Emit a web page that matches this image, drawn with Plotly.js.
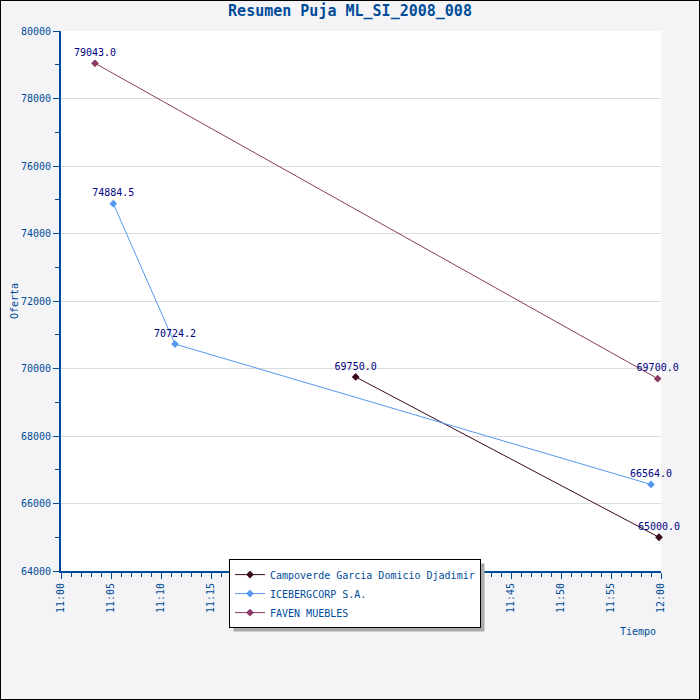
<!DOCTYPE html>
<html>
<head>
<meta charset="utf-8">
<script src="https://cdn.plot.ly/plotly-3.0.1.min.js"></script>
<style>
  html, body { margin: 0; padding: 0; background: #fff; }
  #chart { width: 700px; height: 700px; box-sizing: border-box; border: 1px solid #000; }
</style>
</head>
<body>
<div id="chart"></div>
<script>
var seriesNames = ["Campoverde Garcia Domicio Djadimir", "ICEBERGCORP S.A.", "FAVEN MUEBLES"];
var seriesColors = ["#3a0a1c", "#5599ee", "#8a3a64"];

var campoTimes = ["2008-01-01 11:29:28", "2008-01-01 11:59:48"];
var campoValues = [69750.0, 65000.0];

var icebergTimes = ["2008-01-01 11:05:14", "2008-01-01 11:11:24", "2008-01-01 11:59:00"];
var icebergValues = [74884.5, 70724.2, 66564.0];

var favenTimes = ["2008-01-01 11:03:24", "2008-01-01 11:59:40"];
var favenValues = [79043.0, 69700.0];

var xTickVals = ["2008-01-01 11:00", "2008-01-01 11:05", "2008-01-01 11:10", "2008-01-01 11:15",
  "2008-01-01 11:20", "2008-01-01 11:25", "2008-01-01 11:30", "2008-01-01 11:35", "2008-01-01 11:40",
  "2008-01-01 11:45", "2008-01-01 11:50", "2008-01-01 11:55", "2008-01-01 12:00"];
var xTickText = ["11:00", "11:05", "11:10", "11:15", "11:20", "11:25", "11:30", "11:35", "11:40",
  "11:45", "11:50", "11:55", "12:00"];

var mono = "DejaVu Sans Mono, monospace";
var axisBlue = "#004c99";

function makeTrace(i, xs, ys) {
  return {
    x: xs,
    y: ys,
    name: seriesNames[i],
    type: "scatter",
    mode: "lines+markers+text",
    text: ys.map(function(v) { return v.toFixed(1); }),
    textposition: "top center",
    textfont: { family: mono, size: 10, color: "#000080" },
    cliponaxis: false,
    line: { color: seriesColors[i], width: 1 },
    marker: { symbol: "diamond", size: 6, color: seriesColors[i] }
  };
}

var data = [
  makeTrace(0, campoTimes, campoValues),
  makeTrace(1, icebergTimes, icebergValues),
  makeTrace(2, favenTimes, favenValues)
];

var layout = {
  width: 698,
  height: 698,
  paper_bgcolor: "#f4f4f6",
  plot_bgcolor: "#ffffff",
  margin: { l: 60, r: 38, t: 30, b: 128 },
  title: {
    text: "<b>Resumen Puja ML_SI_2008_008</b>",
    font: { family: mono, size: 15, color: axisBlue },
    x: 0.5, xanchor: "center", y: 0.993, yanchor: "top"
  },
  showlegend: true,
  legend: {
    x: 0.28, xanchor: "left",
    y: 0.022, yanchor: "top",
    bgcolor: "#ffffff",
    bordercolor: "#000000",
    borderwidth: 1,
    font: { family: mono, size: 10, color: axisBlue },
    traceorder: "normal",
    tracegroupgap: 0,
    itemwidth: 30
  },
  xaxis: {
    type: "date",
    range: ["2008-01-01 11:00", "2008-01-01 12:00"],
    tickmode: "array",
    tickvals: xTickVals,
    ticktext: xTickText,
    tickangle: -90,
    ticks: "outside",
    ticklen: 6,
    tickcolor: axisBlue,
    tickfont: { family: mono, size: 10, color: axisBlue },
    showline: true,
    linecolor: axisBlue,
    linewidth: 2,
    showgrid: false,
    zeroline: false,
    fixedrange: true,
    minor: { dtick: 60000, ticks: "outside", ticklen: 4, tickcolor: axisBlue, showgrid: false }
  },
  yaxis: {
    range: [64000, 80000],
    dtick: 2000,
    tick0: 64000,
    tickformat: "d",
    ticks: "outside",
    ticklen: 6,
    tickcolor: axisBlue,
    tickfont: { family: mono, size: 10, color: axisBlue },
    showline: true,
    linecolor: axisBlue,
    linewidth: 2,
    showgrid: true,
    gridcolor: "#dcdcdc",
    zeroline: false,
    fixedrange: true,
    title: { text: "Oferta", font: { family: mono, size: 10, color: axisBlue }, standoff: 0 },
    minor: { dtick: 1000, ticks: "outside", ticklen: 4, tickcolor: axisBlue, showgrid: false }
  },
  annotations: [{
    text: "Tiempo",
    xref: "paper", yref: "paper",
    x: 0.995, xanchor: "right",
    y: -0.098, yanchor: "top",
    showarrow: false,
    font: { family: mono, size: 10, color: axisBlue }
  }],
  shapes: [{
    type: "rect",
    xref: "paper", yref: "paper",
    x0: 0.287, x1: 0.688,
    y0: 0.013, y1: -0.085,
    fillcolor: "#aaaaaa",
    line: { width: 0 },
    layer: "above"
  }]
};

Plotly.newPlot("chart", data, layout, { displayModeBar: false, staticPlot: true }).then(function(gd) {
  // drop shadow: same size as the legend box, shifted 4px right and down
  var bg = gd.querySelector(".legend .bg");
  if (!bg) return;
  var lb = bg.getBoundingClientRect();
  var cb = gd.getBoundingClientRect();
  var fs = gd._fullLayout._size;
  var left = lb.left - cb.left - 1 + 4, right = lb.right - cb.left - 1 + 4;
  var top = lb.top - cb.top - 1 + 4, bottom = lb.bottom - cb.top - 1 + 4;
  return Plotly.relayout(gd, {
    "shapes[0].x0": (left - fs.l) / fs.w,
    "shapes[0].x1": (right - fs.l) / fs.w,
    "shapes[0].y0": 1 - (top - fs.t) / fs.h,
    "shapes[0].y1": 1 - (bottom - fs.t) / fs.h
  });
});
</script>
</body>
</html>
